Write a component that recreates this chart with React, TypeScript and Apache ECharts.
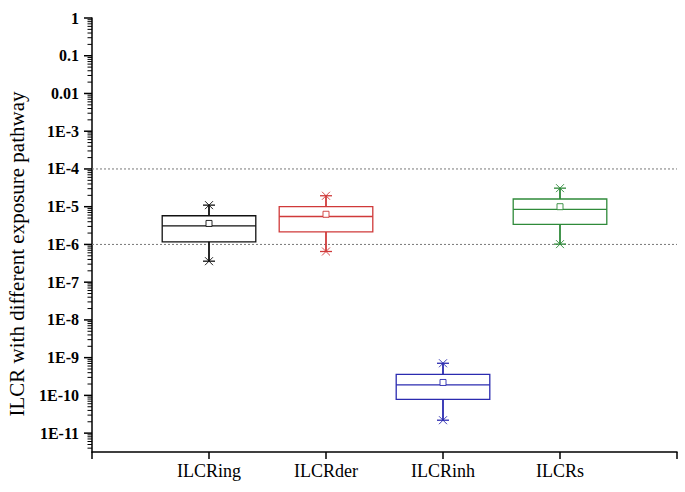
import React, { useEffect, useRef } from "react";
import * as echarts from "echarts";

const categories = ["ILCRing", "ILCRder", "ILCRinh", "ILCRs"];
const lowWhisker = [3.6e-7, 6.5e-7, 2.2e-11, 1.02e-6];
const q1 = [1.17e-6, 2.14e-6, 7.8e-11, 3.4e-6];
const median = [3.1e-6, 5.5e-6, 1.9e-10, 8.5e-6];
const q3 = [5.75e-6, 1.0e-5, 3.6e-10, 1.6e-5];
const highWhisker = [1.1e-5, 1.95e-5, 7.1e-10, 3.1e-5];
const mean = [3.6e-6, 6.3e-6, 2.2e-10, 1.0e-5];
const boxColors = ["#111111", "#d03a3a", "#2b2bb0", "#2f8a3a"];
const riskLines = [1e-4, 1e-6];
const yMinExp = -11.5;
const yMaxExp = 0;
const yTitle = "ILCR with different exposure pathway";

const SERIF = '"Liberation Serif", "Times New Roman", serif';
const lg = (v: number) => Math.log10(v);

function formatExp(n: number): string {
  if (n === 0) return "1";
  if (n === -1) return "0.1";
  if (n === -2) return "0.01";
  return "1E" + n;
}

export default function App() {
  const ref = useRef<HTMLDivElement>(null);
  useEffect(() => {
    if (!ref.current) return;
    const chart = echarts.init(ref.current, null, { renderer: "svg" });

    const boxData = categories.map((_, i) => [
      i + 1,
      lg(lowWhisker[i]),
      lg(q1[i]),
      lg(median[i]),
      lg(q3[i]),
      lg(highWhisker[i]),
      lg(mean[i]),
    ]);

    // tick marks of the log axis: majors at 10^n, minors at k*10^n
    const tickVals: number[][] = [];
    for (let n = -12; n <= 0; n++) {
      for (let k = 1; k <= 9; k++) {
        const e = Math.log10(k * Math.pow(10, n));
        if (e >= yMinExp - 1e-9 && e <= yMaxExp + 1e-9) tickVals.push([0, e, k === 1 ? 1 : 0]);
      }
    }

    const option: any = {
      animation: false,
      backgroundColor: "#ffffff",
      grid: { left: 92, right: 8, top: 18, bottom: 40, containLabel: false },
      xAxis: {
        type: "value",
        min: 0,
        max: 5,
        interval: 1,
        splitLine: { show: false },
        axisLine: { show: true, onZero: false, lineStyle: { color: "#000", width: 1.5 } },
        axisTick: { show: true, inside: false, length: 7, lineStyle: { color: "#000", width: 1.5 } },
        axisLabel: {
          margin: 10,
          color: "#000",
          fontFamily: SERIF,
          fontSize: 18,
          formatter: (v: number) => (v >= 1 && v <= categories.length ? categories[v - 1] : ""),
        },
      },
      yAxis: {
        type: "value",
        min: yMinExp,
        max: yMaxExp,
        splitNumber: 12,
        splitLine: { show: false },
        axisLine: { show: true, onZero: false, lineStyle: { color: "#000", width: 1.5 } },
        axisTick: { show: false },
        minorTick: { show: false },
        axisLabel: {
          showMinLabel: false,
          margin: 13,
          color: "#000",
          fontFamily: SERIF,
          fontWeight: "bold",
          fontSize: 16,
          formatter: (v: number) => {
            if (Math.abs(v - Math.round(v)) > 1e-6) return "";
            return formatExp(Math.round(v));
          },
        },
      },
      graphic: [
        {
          type: "text",
          x: 17,
          y: 254,
          rotation: Math.PI / 2,
          style: {
            text: yTitle,
            font: `21px ${SERIF}`,
            fill: "#000",
            align: "center",
            verticalAlign: "middle",
          },
        },
      ],
      series: [
        ...riskLines.map((v) => ({
          type: "line",
          silent: true,
          symbol: "none",
          data: [
            [0, lg(v)],
            [5, lg(v)],
          ],
          lineStyle: { color: "#777", type: [2, 2], width: 1 },
          z: 1,
        })),
        {
          type: "custom",
          name: "ticks",
          silent: true,
          clip: false,
          data: tickVals,
          encode: { x: 0, y: 1 },
          renderItem: (params: any, api: any) => {
            const p = api.coord([0, api.value(1)]);
            const major = api.value(2) === 1;
            return {
              type: "line",
              shape: { x1: p[0] - (major ? 8 : 4.5), y1: p[1], x2: p[0], y2: p[1] },
              style: { stroke: "#000", lineWidth: major ? 1.5 : 1 },
            };
          },
        },
        {
          type: "custom",
          name: "boxes",
          silent: true,
          data: boxData,
          encode: { x: 0, y: [1, 2, 3, 4, 5, 6] },
          z: 3,
          renderItem: (params: any, api: any) => {
            const x = api.value(0);
            const idx = params.dataIndex;
            const color = boxColors[idx];
            const lo = api.value(1);
            const b1 = api.value(2);
            const md = api.value(3);
            const b3 = api.value(4);
            const hi = api.value(5);
            const mn = api.value(6);
            const pTopLeft = api.coord([x - 0.4, b3]);
            const pBotRight = api.coord([x + 0.4, b1]);
            const pMedL = api.coord([x - 0.4, md]);
            const pMedR = api.coord([x + 0.4, md]);
            const pHi = api.coord([x, hi]);
            const pLo = api.coord([x, lo]);
            const pQ3 = api.coord([x, b3]);
            const pQ1 = api.coord([x, b1]);
            const pMean = api.coord([x, mn]);
            const lineStyle = { stroke: color, lineWidth: 1.3, fill: "none" };
            const whiskStyle = { stroke: color, lineWidth: 1.8 };
            const crossStyle = { stroke: color, lineWidth: 0.9 };
            const cross = (p: number[]) => [
              { type: "line", shape: { x1: p[0] - 4, y1: p[1] - 4, x2: p[0] + 4, y2: p[1] + 4 }, style: crossStyle },
              { type: "line", shape: { x1: p[0] - 4, y1: p[1] + 4, x2: p[0] + 4, y2: p[1] - 4 }, style: crossStyle },
              { type: "line", shape: { x1: p[0] - 6, y1: p[1], x2: p[0] + 6, y2: p[1] }, style: { stroke: color, lineWidth: 1.3 } },
            ];
            return {
              type: "group",
              children: [
                {
                  type: "rect",
                  shape: {
                    x: pTopLeft[0],
                    y: pTopLeft[1],
                    width: pBotRight[0] - pTopLeft[0],
                    height: pBotRight[1] - pTopLeft[1],
                  },
                  style: lineStyle,
                },
                { type: "line", shape: { x1: pMedL[0], y1: pMedL[1], x2: pMedR[0], y2: pMedR[1] }, style: lineStyle },
                { type: "line", shape: { x1: pQ3[0], y1: pQ3[1], x2: pHi[0], y2: pHi[1] }, style: whiskStyle },
                { type: "line", shape: { x1: pQ1[0], y1: pQ1[1], x2: pLo[0], y2: pLo[1] }, style: whiskStyle },
                ...cross(pHi),
                ...cross(pLo),
                {
                  type: "rect",
                  shape: { x: pMean[0] - 3, y: pMean[1] - 3, width: 6, height: 6 },
                  style: { stroke: color, lineWidth: 0.9, fill: "#fff" },
                },
              ],
            };
          },
        },
      ],
    };

    chart.setOption(option);
    return () => chart.dispose();
  }, []);

  return (
    <div
      ref={ref}
      style={{ position: "absolute", left: 0, top: 0, width: 685, height: 492, background: "#fff" }}
    />
  );
}
